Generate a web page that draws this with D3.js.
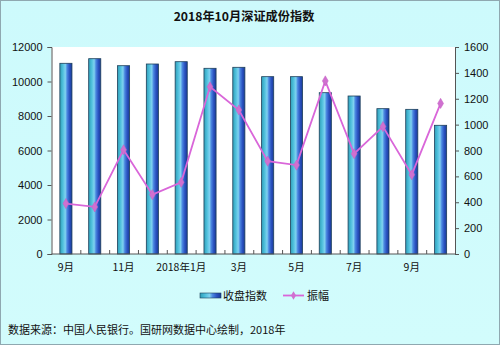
<!DOCTYPE html>
<html>
<head>
<meta charset="utf-8">
<script src="https://cdn.jsdelivr.net/npm/d3@7"></script>
<style>
  html, body { margin: 0; padding: 0; background: #ffffff; }
  svg { display: block; font-family: "Liberation Sans", Arial, "Noto Sans CJK SC", sans-serif; }
</style>
</head>
<body>
<svg id="chart" width="500" height="345"></svg>
<script>
// Monthly categories, Sep 2017 – Oct 2018
const months = ["2017-09", "2017-10", "2017-11", "2017-12", "2018-01", "2018-02", "2018-03",
                "2018-04", "2018-05", "2018-06", "2018-07", "2018-08", "2018-09", "2018-10"];
const tickLabels = ["9月", "", "11月", "", "2018年1月", "", "3月", "", "5月", "", "7月", "", "9月", ""];
// Closing index (left axis)
const closeIndex = [11055, 11322, 10916, 11014, 11148, 10765, 10823, 10280, 10280, 9351, 9159, 8425, 8386, 7461];
// Monthly amplitude (right axis)
const amplitude = [390, 364, 805, 459, 554, 1292, 1113, 718, 687, 1338, 775, 985, 613, 1164];
const leftTicks = [0, 2000, 4000, 6000, 8000, 10000, 12000];
const rightTicks = [0, 200, 400, 600, 800, 1000, 1200, 1400, 1600];

const svg = d3.select("#chart");
const W = 500, H = 345;
const m = { left: 51.5, right: 45, top: 47, bottom: 91 };
const x0 = m.left, x1 = W - m.right, y0 = H - m.bottom, y1 = m.top;

// Gradients
const defs = svg.append("defs");
const bg = defs.append("linearGradient").attr("id", "bgGrad").attr("x1", 0).attr("y1", 0).attr("x2", 0).attr("y2", 1);
bg.append("stop").attr("offset", "0%").attr("stop-color", "#cdfafc");
bg.append("stop").attr("offset", "100%").attr("stop-color", "#d2fcfc");

const barGrad = defs.append("linearGradient").attr("id", "barGrad").attr("x1", 0).attr("y1", 0).attr("x2", 1).attr("y2", 0);
[["0%", "#2f9fb8"], ["25%", "#4fc0dc"], ["45%", "#7fd2f0"], ["60%", "#4a86e0"], ["80%", "#2a52c0"], ["100%", "#1a3a98"]]
  .forEach(([o, c]) => barGrad.append("stop").attr("offset", o).attr("stop-color", c));

// Frame
svg.append("rect").attr("x", 0.5).attr("y", 0.5).attr("width", W - 1).attr("height", H - 1)
  .attr("fill", "url(#bgGrad)").attr("stroke", "#8fa8b0").attr("stroke-width", 1);

// Plot area
svg.append("rect").attr("x", x0).attr("y", y1).attr("width", x1 - x0).attr("height", y0 - y1).attr("fill", "#ffffff");

// Scales
const x = d3.scaleBand().domain(months).range([x0, x1]).paddingInner(0.58).paddingOuter(0.29);
const xOuter = d3.scaleBand().domain(months).range([x0, x1]);
const yL = d3.scaleLinear().domain([0, 12000]).range([y0, y1]);
const yR = d3.scaleLinear().domain([0, 1600]).range([y0, y1]);

// Title
svg.append("text").attr("x", 244).attr("y", 21).attr("text-anchor", "middle")
  .attr("font-size", 12.2).attr("font-weight", "bold").attr("fill", "#111")
  .attr("font-family", "'Noto Sans CJK SC', sans-serif")
  .text("2018年10月深证成份指数");

// Bars
svg.append("g").selectAll("rect").data(closeIndex).join("rect")
  .attr("x", (d, i) => x(months[i]))
  .attr("y", d => yL(d))
  .attr("width", x.bandwidth())
  .attr("height", d => y0 - yL(d))
  .attr("fill", "url(#barGrad)")
  .attr("stroke", "#1d3f5a").attr("stroke-width", 0.8);

// Left axis
const axL = svg.append("g").attr("transform", `translate(${x0},0)`)
  .call(d3.axisLeft(yL).tickValues(leftTicks).tickSize(4).tickPadding(5).tickFormat(d3.format("d")));
// Right axis
const axR = svg.append("g").attr("transform", `translate(${x1},0)`)
  .call(d3.axisRight(yR).tickValues(rightTicks).tickSize(4).tickPadding(5).tickFormat(d3.format("d")));
[axL, axR].forEach(g => {
  g.select(".domain").attr("stroke", "#555");
  g.selectAll(".tick line").attr("stroke", "#555");
  g.selectAll("text").attr("font-size", 11).attr("fill", "#111");
});

// Bottom axis with ticks between categories
const axB = svg.append("g").attr("transform", `translate(0,${y0})`);
axB.append("line").attr("x1", x0).attr("x2", x1).attr("stroke", "#555");
axB.selectAll("line.tk").data(months.slice(1)).join("line").attr("class", "tk")
  .attr("x1", d => xOuter(d) + 0.5).attr("x2", d => xOuter(d) + 0.5)
  .attr("y1", 0).attr("y2", -4).attr("stroke", "#555");
axB.selectAll("text").data(months).join("text")
  .attr("x", d => xOuter(d) + xOuter.bandwidth() / 2)
  .attr("y", 17).attr("text-anchor", "middle")
  .attr("font-size", 10.5).attr("fill", "#111")
  .attr("font-family", "'Noto Sans CJK SC', sans-serif")
  .text((d, i) => tickLabels[i]);

// Amplitude line
const line = d3.line().x((d, i) => xOuter(months[i]) + xOuter.bandwidth() / 2).y(d => yR(d));
svg.append("path").datum(amplitude).attr("d", line)
  .attr("fill", "none").attr("stroke", "#d966d9").attr("stroke-width", 1.8);
svg.append("g").selectAll("path").data(amplitude).join("path")
  .attr("d", d3.symbol(d3.symbolDiamond, 30))
  .attr("transform", (d, i) => `translate(${xOuter(months[i]) + xOuter.bandwidth() / 2},${yR(d)})`)
  .attr("fill", "#d070d0").attr("stroke", "#c060c0").attr("stroke-width", 0.5);

// Legend
const lg = svg.append("g").attr("font-size", 11).attr("fill", "#111")
  .attr("font-family", "'Noto Sans CJK SC', sans-serif");
lg.append("rect").attr("x", 200).attr("y", 293).attr("width", 21).attr("height", 5)
  .attr("fill", "url(#barGrad)").attr("stroke", "#1d3f5a").attr("stroke-width", 0.6);
lg.append("text").attr("x", 223).attr("y", 300).text("收盘指数");
lg.append("line").attr("x1", 283).attr("x2", 304).attr("y1", 295.5).attr("y2", 295.5)
  .attr("stroke", "#d966d9").attr("stroke-width", 1.8);
lg.append("path").attr("d", d3.symbol(d3.symbolDiamond, 22))
  .attr("transform", "translate(293.5,295.5)").attr("fill", "#d070d0");
lg.append("text").attr("x", 307).attr("y", 300).text("振幅");

// Source note
svg.append("text").attr("x", 8).attr("y", 334).attr("font-size", 11).attr("fill", "#111")
  .attr("font-family", "'Noto Sans CJK SC', sans-serif")
  .text("数据来源：中国人民银行。国研网数据中心绘制，2018年");
</script>
</body>
</html>
